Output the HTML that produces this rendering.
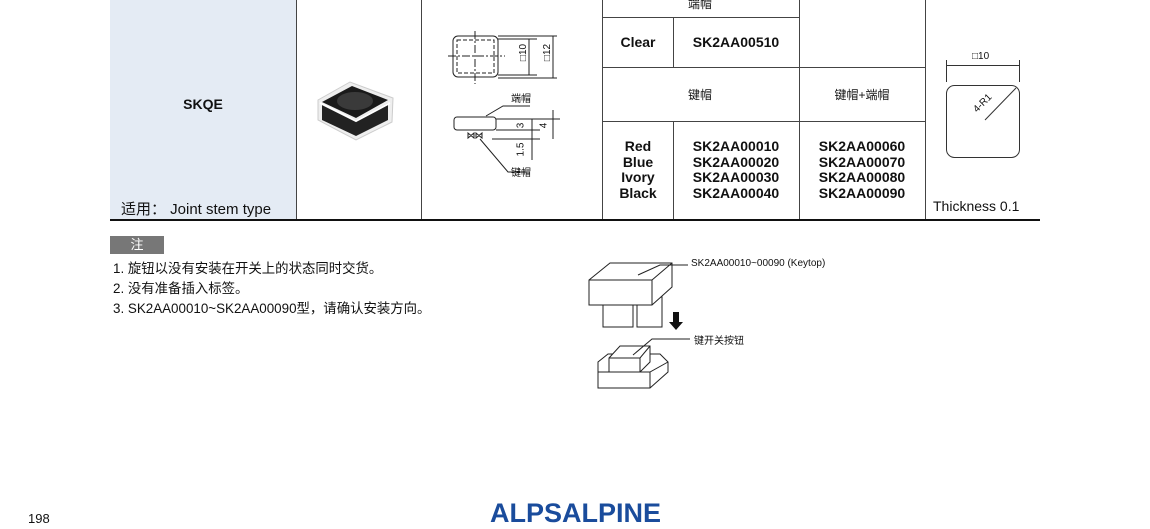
<!DOCTYPE html>
<html><head><meta charset="utf-8"><style>
body{margin:0;background:#fff;}
#p{position:relative;width:1150px;height:529px;overflow:hidden;font-family:"Liberation Sans","Noto Sans CJK SC",sans-serif;color:#111;}
.t{position:absolute;white-space:nowrap;}
.b{font-weight:bold;font-size:14px;}
.c{transform:translateX(-50%);text-align:center;}
</style></head><body><div id="p">
<div style="position:absolute;left:110px;top:0;width:186px;height:220px;background:#e4ebf4"></div>
<svg width="1150" height="529" style="position:absolute;left:0;top:0">
<g stroke="#444" stroke-width="1" fill="none">
<line x1="296.5" y1="0" x2="296.5" y2="220"/>
<line x1="421.5" y1="0" x2="421.5" y2="220"/>
<line x1="602.5" y1="0" x2="602.5" y2="220"/>
<line x1="799.5" y1="0" x2="799.5" y2="220"/>
<line x1="925.5" y1="0" x2="925.5" y2="220"/>
<line x1="673.5" y1="17" x2="673.5" y2="67"/>
<line x1="673.5" y1="121" x2="673.5" y2="220"/>
<line x1="602" y1="17.5" x2="799" y2="17.5"/>
<line x1="602" y1="67.5" x2="925" y2="67.5"/>
<line x1="602" y1="121.5" x2="925" y2="121.5"/>
</g>
<line x1="110" y1="220" x2="1040" y2="220" stroke="#111" stroke-width="2"/>
<!-- photo -->
<g>
<path d="M318 100 L350 82 L393 98 L392 122 L356 140 L318 120 Z" fill="#eee" stroke="#ccc"/>
<path d="M322 102 L352 86 L388 100 L356 118 Z" fill="#1a1a1a"/>
<ellipse cx="355" cy="101" rx="18" ry="9" fill="#3a3a3a"/>
<path d="M322 104 L356 120 L388 103 L388 120 L356 136 L322 120 Z" fill="#222"/>
<path d="M320 103 L356 121 L390 103" stroke="#fff" stroke-width="2" fill="none"/>
</g>
<!-- drawing top view -->
<g stroke="#222" stroke-width="1" fill="none">
<rect x="453" y="36" width="45" height="41" rx="5"/>
<rect x="457" y="40" width="37" height="33" stroke-dasharray="4,2"/>
<line x1="448" y1="56" x2="505" y2="56" stroke-dasharray="8,2,2,2"/>
<line x1="475" y1="31" x2="475" y2="84" stroke-dasharray="8,2,2,2"/>
<line x1="498" y1="39" x2="537" y2="39"/><line x1="498" y1="75" x2="537" y2="75"/>
<line x1="498" y1="36" x2="557" y2="36"/><line x1="498" y1="78" x2="557" y2="78"/>
<line x1="529" y1="39" x2="529" y2="75"/><line x1="553" y1="36" x2="553" y2="78"/>
<rect x="454" y="117" width="42" height="13" rx="3"/>
<line x1="496" y1="119" x2="560" y2="119"/><line x1="496" y1="130" x2="540" y2="130"/>
<line x1="492" y1="139" x2="540" y2="139"/>
<line x1="532" y1="119" x2="532" y2="160"/><line x1="553" y1="110" x2="553" y2="139"/>
<path d="M468 133 l6 5 v-5 l-6 5 z M476 133 l6 5 v-5 l-6 5z"/>
<polyline points="486,116 503,106 530,106"/>
<polyline points="480,139 508,172 530,172"/>
</g>
<!-- right square -->
<g stroke="#333" fill="none">
<rect x="946.5" y="85.5" width="73" height="72" rx="8"/>
<line x1="946.5" y1="60" x2="946.5" y2="82"/><line x1="1019.5" y1="60" x2="1019.5" y2="82"/>
<line x1="947" y1="65.5" x2="1019" y2="65.5"/>
<line x1="985" y1="120" x2="1016" y2="88"/>
</g>
<!-- exploded -->
<g stroke="#222" fill="#fff" stroke-width="1">
<rect x="603" y="297" width="30" height="30"/>
<rect x="637" y="297" width="25" height="30"/>
<path d="M589 280 L610 263 L672 263 L672 287 L652 305 L589 305 Z"/>
<path d="M589 280 L652 280 L672 263 M652 280 L652 305" fill="none"/>
<path d="M598 372 L598 362 L608 354 L660 354 L668 362 L668 372 L650 388 L598 388 Z"/>
<path d="M598 372 L650 372 L668 362 M650 372 L650 388" fill="none"/>
<path d="M609 358 L620 346 L650 346 L650 362 L640 372 L609 372 Z"/>
<path d="M609 358 L640 358 L650 346 M640 358 L640 372" fill="none"/>
<polyline points="638,275 660,265 688,265" fill="none"/>
<polyline points="633,355 652,339 690,339" fill="none"/>
</g>
<path d="M673 312 h6 v10 h4 l-7 8 l-7 -8 h4z" fill="#111"/>
</svg>
<div class="t b c" style="left:203px;top:96px">SKQE</div>
<div class="t" style="left:121px;top:198px;font-size:15px">适用： Joint stem type</div>
<div class="t" style="left:511px;top:90px;font-size:10px">端帽</div>
<div class="t" style="left:511px;top:164px;font-size:10px">键帽</div>
<div class="t" style="left:515px;top:47px;font-size:10px;transform:rotate(-90deg)">□10</div>
<div class="t" style="left:539px;top:47px;font-size:10px;transform:rotate(-90deg)">□12</div>
<div class="t" style="left:518px;top:120px;font-size:10px;transform:rotate(-90deg)">3</div>
<div class="t" style="left:541px;top:120px;font-size:10px;transform:rotate(-90deg)">4</div>
<div class="t" style="left:514px;top:144px;font-size:10px;transform:rotate(-90deg)">1.5</div>
<div class="t c" style="left:700px;top:-5px;font-size:12px">端帽</div>
<div class="t b c" style="left:638px;top:34px">Clear</div>
<div class="t b c" style="left:736px;top:34px">SK2AA00510</div>
<div class="t c" style="left:700px;top:86px;font-size:12px">键帽</div>
<div class="t c" style="left:862px;top:86px;font-size:12px">键帽+端帽</div>
<div class="t b c" style="left:638px;top:139px;line-height:15.5px">Red<br>Blue<br>Ivory<br>Black</div>
<div class="t b c" style="left:736px;top:139px;line-height:15.5px">SK2AA00010<br>SK2AA00020<br>SK2AA00030<br>SK2AA00040</div>
<div class="t b c" style="left:862px;top:139px;line-height:15.5px">SK2AA00060<br>SK2AA00070<br>SK2AA00080<br>SK2AA00090</div>
<div class="t" style="left:933px;top:198px;font-size:14px">Thickness 0.1</div>
<div class="t" style="left:972px;top:51px;font-size:10px">□10</div>
<div class="t" style="left:972px;top:98px;font-size:10px;transform:rotate(-45deg)">4-R1</div>
<div class="t" style="left:110px;top:236px;width:54px;height:18px;background:#777;color:#fff;font-size:13px;text-align:center;line-height:18px">注</div>
<div class="t" style="left:113px;top:259px;font-size:13.4px;line-height:20px">1. 旋钮以没有安装在开关上的状态同时交货。<br>2. 没有准备插入标签。<br>3. SK2AA00010~SK2AA00090型，请确认安装方向。</div>
<div class="t" style="left:691px;top:258px;font-size:10px">SK2AA00010~00090 (Keytop)</div>
<div class="t" style="left:694px;top:332px;font-size:10px">键开关按钮</div>
<div class="t" style="left:28px;top:511px;font-size:13px">198</div>
<div class="t" style="left:490px;top:498px;font-size:27px;font-weight:bold;color:#1a4c9c;transform-origin:0 0;transform:scaleX(1.0)">ALPSALPINE</div>
</div></body></html>
